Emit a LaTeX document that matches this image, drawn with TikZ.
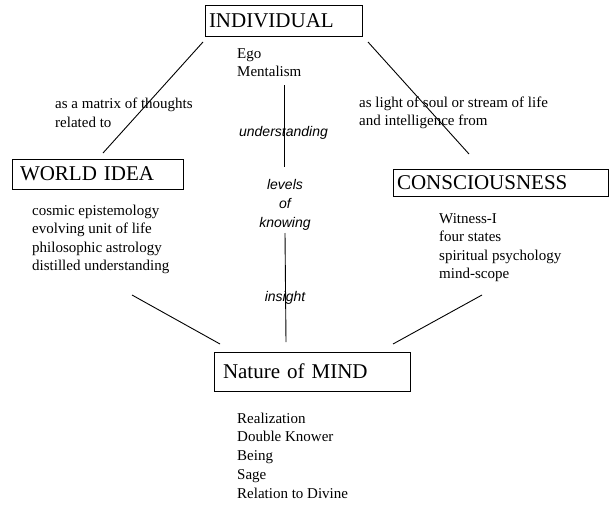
\documentclass[tikz,border=0pt]{standalone}
\usepackage{fontspec}
\setmainfont{Liberation Serif}
\newfontfamily\arialfont{Liberation Sans}
\begin{document}
\begin{tikzpicture}[x=1pt,y=-1pt,
  bigbox/.style={draw,line width=1pt,rectangle,inner sep=0pt,align=left,
    font=\fontsize{21}{24}\selectfont},
  small/.style={inner sep=0pt,anchor=base west,font=\fontsize{15}{18}\selectfont},
  ital/.style={inner sep=0pt,anchor=base,font=\arialfont\itshape\fontsize{14}{17}\selectfont},
  conn/.style={line width=0.9pt}]
\useasboundingbox (0,0) rectangle (610,506);
% boxes
\node[bigbox,minimum width=157,minimum height=31,text width=149] (ind) at (283.5,20.5) {INDIVIDUAL};
\node[bigbox,minimum width=171,minimum height=30,text width=155] (world) at (97.5,174) {WORLD IDEA};
\node[bigbox,minimum width=215,minimum height=27,text width=207] (cons) at (500.5,182.5) {CONSCIOUSNESS};
\node[bigbox,minimum width=196,minimum height=39,text width=178] (mind) at (312,371.5) {Nature of MIND};
% texts
\node[small] (ego) at (237,58) {Ego};
\node[small] (ment) at (237,76) {Mentalism};
\node[small] (mat1) at (55,108) {as a matrix of thoughts};
\node[small] (mat2) at (55,127) {related to};
\node[small] (lig1) at (359,107) {as light of soul or stream of life};
\node[small] (lig2) at (359,125) {and intelligence from};
\node[small] (w1) at (32,215) {cosmic epistemology};
\node[small] (w2) at (32,233.5) {evolving unit of life};
\node[small] (w3) at (32,252) {philosophic astrology};
\node[small] (w4) at (32,270) {distilled understanding};
\node[small] (c1) at (439,223) {Witness-I};
\node[small] (c2) at (439,241.5) {four states};
\node[small] (c3) at (439,260) {spiritual psychology};
\node[small] (c4) at (439,278) {mind-scope};
\node[small] (m1) at (237,423) {Realization};
\node[small] (m2) at (237,441.5) {Double Knower};
\node[small] (m3) at (237,460.5) {Being};
\node[small] (m4) at (237,479) {Sage};
\node[small] (m5) at (237,498) {Relation to Divine};
\node[ital] (und) at (283.5,136) {understanding};
\node[ital] (lev) at (285,189) {levels};
\node[ital] (of) at (285,208) {of};
\node[ital] (kno) at (285,227) {knowing};
\node[ital] (ins) at (285,301) {insight};
% connector ends
\coordinate (a1) at (203,42);
\coordinate (a2) at (103,153);
\coordinate (b1) at (368,42);
\coordinate (b2) at (469,154);
\coordinate (c1e) at (132,295);
\coordinate (c2e) at (220,344);
\coordinate (d1) at (482,295);
\coordinate (d2) at (393,344);
\coordinate (v1) at (284,85);
\coordinate (v2) at (284,167);
\coordinate (v3) at (285,233);
\coordinate (v4) at (286,342);
\draw[conn] (a1) -- (a2);
\draw[conn] (b1) -- (b2);
\draw[conn] (c1e) -- (c2e);
\draw[conn] (d1) -- (d2);
\draw[conn] (v1) -- (v2);
\draw[conn] (v3) -- (v4);
\end{tikzpicture}
\end{document}
